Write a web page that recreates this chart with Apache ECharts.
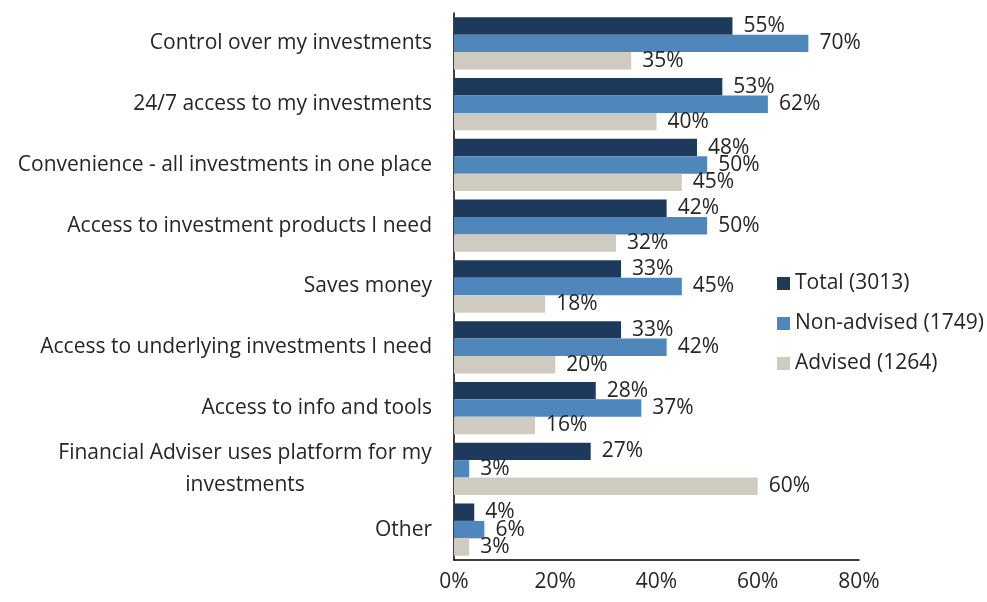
<!DOCTYPE html>
<html><head><meta charset="utf-8">
<script src="https://cdn.jsdelivr.net/npm/echarts@6/dist/echarts.min.js"></script>
<style>html,body{margin:0;padding:0;background:#fff}#c{width:987px;height:602px}</style>
</head><body><div id="c"></div>
<script>
const categories = ["Control over my investments","24/7 access to my investments","Convenience - all investments in one place","Access to investment products I need","Saves money","Access to underlying investments I need","Access to info and tools","Financial Adviser uses platform for my\ninvestments","Other"];
const seriesNames = ["Total (3013)","Non-advised (1749)","Advised (1264)"];
const totalVals = [55,53,48,42,33,33,28,27,4];
const nonAdvisedVals = [70,62,50,50,45,42,37,3,6];
const advisedVals = [35,40,45,32,18,20,16,60,3];
const xTicks = [0,20,40,60,80];

const FONT = '"Open Sans", sans-serif';
const FS = 21;
const txt = '#262626';
const colors = ['#1D3A5D','#4F87BC','#D0CBC1'];

const cv = document.createElement('canvas').getContext('2d');
cv.font = FS + 'px "Open Sans"';

const chart = echarts.init(document.getElementById('c'));
function mk(name, data, color){
  return {name, type:'bar', data, itemStyle:{color},
    barGap:'0%', barCategoryGap:'14%',
    label:{show:true, position:'right', distance:11, formatter:'{c}%', color:txt, fontSize:FS, fontFamily:FONT}};
}
chart.setOption({
  animation:false,
  textStyle:{fontFamily:FONT},
  grid:{left:454, top:13, right:128, bottom:42, containLabel:false},
  legend:{orient:'vertical', left:772, top:268, itemWidth:13, itemHeight:13, itemGap:19,
    icon:'rect', textStyle:{fontSize:FS, color:txt, fontFamily:FONT}, data:seriesNames},
  xAxis:{type:'value', min:0, max:80, interval:20, splitLine:{show:false},
    axisLine:{show:true, lineStyle:{color:'#000', width:1.5}}, axisTick:{show:false},
    axisLabel:{formatter: v => xTicks.includes(v) ? v + '%' : '', fontSize:FS, color:txt, fontFamily:FONT, margin:12}},
  yAxis:{type:'category', inverse:true, data:categories,
    axisLine:{show:true, lineStyle:{color:'#000', width:1.5}}, axisTick:{show:false},
    axisLabel:{fontSize:FS, color:txt, fontFamily:FONT, margin:22, lineHeight:32,
      formatter: function(v){
        if (v.indexOf('\n') < 0) return v;
        return v.split('\n').map(p => '{m|' + p + '}').join('\n');
      },
      rich:{m:{fontSize:FS, color:txt, fontFamily:FONT, lineHeight:32, align:'center', width: Math.ceil(cv.measureText("Financial Adviser uses platform for my").width)}}
    }},
  series:[mk(seriesNames[0], totalVals, colors[0]), mk(seriesNames[1], nonAdvisedVals, colors[1]), mk(seriesNames[2], advisedVals, colors[2])]
});
</script></body></html>
